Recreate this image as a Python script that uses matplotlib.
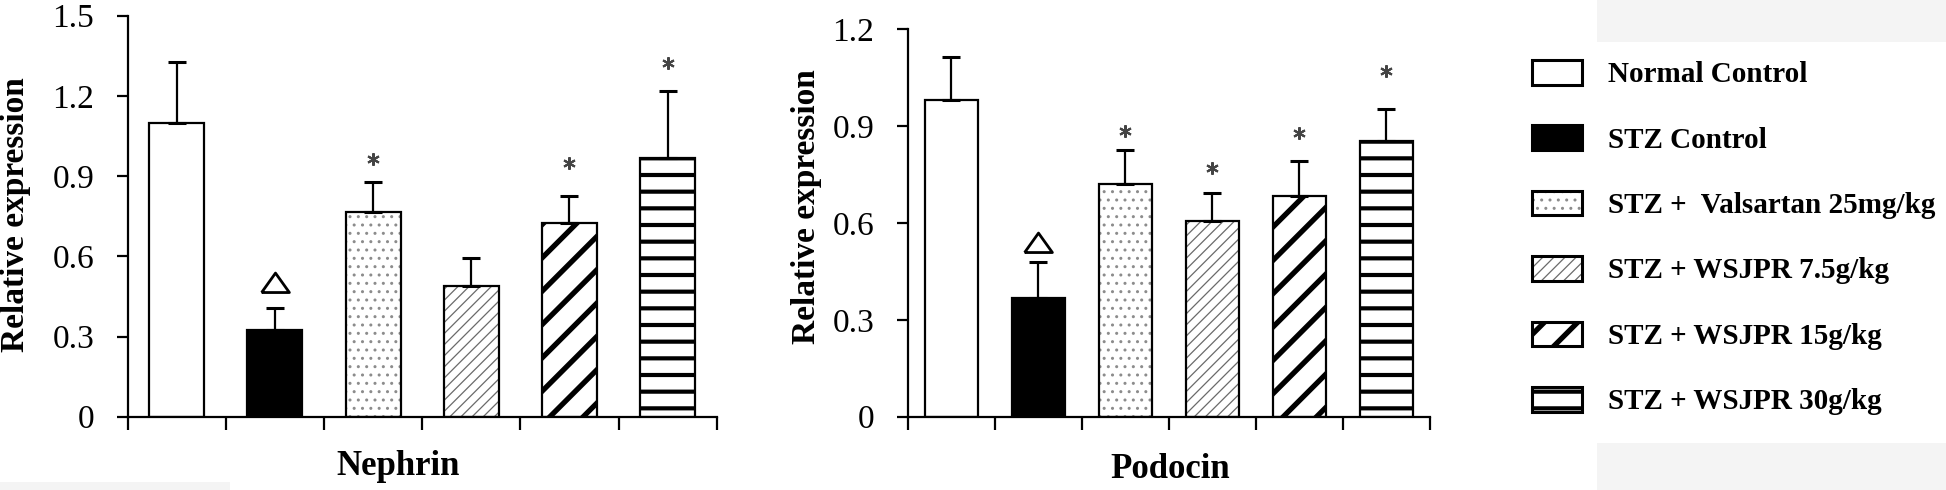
import numpy as np
import matplotlib as mpl
mpl.use("Agg")
import matplotlib.pyplot as plt
import matplotlib.patches as mpatches
from matplotlib.legend_handler import HandlerTuple, HandlerPatch

# ---------------- data ----------------
groups = ["Normal Control", "STZ Control", "STZ +  Valsartan 25mg/kg",
          "STZ + WSJPR 7.5g/kg", "STZ + WSJPR 15g/kg", "STZ + WSJPR 30g/kg"]

nephrin_mean = [1.10, 0.325, 0.765, 0.49, 0.726, 0.969]
nephrin_err = [0.226, 0.081, 0.114, 0.104, 0.100, 0.251]
nephrin_mark = ["", "tri", "star", "", "star", "star"]
nephrin_mark_y = [np.nan, 0.50, 0.963, np.nan, 0.948, 1.322]

podocin_mean = [0.981, 0.369, 0.720, 0.607, 0.684, 0.854]
podocin_err = [0.132, 0.109, 0.106, 0.085, 0.108, 0.100]
podocin_mark = ["", "tri", "star", "star", "star", "star"]
podocin_mark_y = [np.nan, 0.539, 0.885, 0.770, 0.878, 1.071]

nephrin_ticks = [0, 0.3, 0.6, 0.9, 1.2, 1.5]
podocin_ticks = [0, 0.3, 0.6, 0.9, 1.2]
tick_labels_n = ["0", "0.3", "0.6", "0.9", "1.2", "1.5"]
tick_labels_p = ["0", "0.3", "0.6", "0.9", "1.2"]

# ---------------- styles ----------------
styles = [
    dict(face="white", hatch=None, hcolor="black", hlw=1.0),
    dict(face="black", hatch=None, hcolor="black", hlw=1.0),
    dict(face="white", hatch="..", hcolor="#8c8c8c", hlw=1.0),
    dict(face="white", hatch="///", hcolor="#6a6a6a", hlw=0.9),
    dict(face="white", hatch="/", hcolor="black", hlw=3.8),
    dict(face="white", hatch="-", hcolor="black", hlw=3.0),
]

SERIF = "Liberation Serif"
W, H, DPI = 1946, 490, 100
fig = plt.figure(figsize=(W / DPI, H / DPI), dpi=DPI)

# faint scanned background areas
for (x0, y0, x1, y1) in [(1597, 0, 1946, 42), (1597, 443, 1946, 490), (0, 482, 230, 490)]:
    fig.add_artist(mpatches.Rectangle((x0 / W, 1 - y1 / H), (x1 - x0) / W, (y1 - y0) / H,
                                      transform=fig.transFigure, color="#f4f4f4",
                                      zorder=-10, linewidth=0))


def make_patch_kwargs(st):
    return dict(facecolor=st["face"], edgecolor=st["hcolor"], hatch=st["hatch"], linewidth=0)


def set_hlw(p, lw):
    if hasattr(p, "set_hatch_linewidth"):
        try:
            p.set_hatch_linewidth(lw)
        except Exception:
            pass


class HatchPatchHandler(HandlerPatch):
    def create_artists(self, legend, orig_handle, xdescent, ydescent, width, height,
                       fontsize, trans):
        lw = getattr(orig_handle, "_my_hlw", None)
        if lw is None:
            return super().create_artists(legend, orig_handle, xdescent, ydescent,
                                          width, height, fontsize, trans)
        with mpl.rc_context({"hatch.linewidth": lw}):
            arts = super().create_artists(legend, orig_handle, xdescent, ydescent,
                                          width, height, fontsize, trans)
        for a in arts:
            set_hlw(a, lw)
        return arts


def draw_panel(ax, means, errs, marks, mark_y, ymax, ticks, tlabels, width):
    x = np.arange(len(means))
    for i in range(len(means)):
        st = styles[i]
        with mpl.rc_context({"hatch.linewidth": st["hlw"]}):
            b = ax.bar(x[i], means[i], width, zorder=2, **make_patch_kwargs(st))
            for p in b:
                set_hlw(p, st["hlw"])
        ax.bar(x[i], means[i], width, facecolor="none", edgecolor="black",
               linewidth=1.6, zorder=3)
    ax.errorbar(x, means, yerr=[np.zeros(len(errs)), errs], fmt="none",
                ecolor="black", elinewidth=1.6, capsize=6.5, capthick=2.2, zorder=4)
    for i in range(len(means)):
        if marks[i] == "tri":
            ax.plot(x[i], mark_y[i], linestyle="none",
                    marker=[(-1, -0.65), (1, -0.65), (0, 0.75), (-1, -0.65)],
                    ms=20, mfc="white", mec="black", mew=2.0, zorder=5, clip_on=False)
        elif marks[i] == "star":
            ax.plot(x[i], mark_y[i], linestyle="none", marker=(6, 2, 0), ms=9,
                    mec="#444444", mew=1.5, zorder=5, clip_on=False)
    ax.set_xlim(-0.5, len(means) - 0.5)
    ax.set_ylim(0, ymax)
    ax.set_yticks(ticks)
    ax.set_yticklabels(tlabels, fontfamily=SERIF, fontsize=24)
    ax.set_xticks(np.arange(-0.5, len(means)))
    ax.set_xticklabels([])
    for s in ["top", "right"]:
        ax.spines[s].set_visible(False)
    for s in ["left", "bottom"]:
        ax.spines[s].set_linewidth(1.6)
    ax.tick_params(axis="y", direction="out", length=8, width=1.6, pad=16)
    ax.tick_params(axis="x", direction="out", length=9.5, width=1.6)
    ax.set_facecolor("none")


ax1 = fig.add_axes([127.7 / W, 1 - 416.7 / H, 589 / W, 401 / H])
draw_panel(ax1, nephrin_mean, nephrin_err, nephrin_mark, nephrin_mark_y, 1.5,
           nephrin_ticks, tick_labels_n, 0.56)
ax2 = fig.add_axes([907.7 / W, 1 - 416.7 / H, 522.3 / W, (416.7 - 29.3) / H])
draw_panel(ax2, podocin_mean, podocin_err, podocin_mark, podocin_mark_y, 1.2,
           podocin_ticks, tick_labels_p, 0.61)

# axis titles
fig.text(398 / W, 1 - 466 / H, "Nephrin", ha="center", va="center",
         fontfamily=SERIF, fontweight="bold", fontsize=25)
fig.text(1170 / W, 1 - 469 / H, "Podocin", ha="center", va="center",
         fontfamily=SERIF, fontweight="bold", fontsize=25)
fig.text(16 / W, 1 - 215 / H, "Relative expression", rotation=90, ha="center", va="center",
         fontfamily=SERIF, fontweight="bold", fontsize=24)
fig.text(807 / W, 1 - 207 / H, "Relative expression", rotation=90, ha="center", va="center",
         fontfamily=SERIF, fontweight="bold", fontsize=24)

# legend
handles = []
for st in styles:
    with mpl.rc_context({"hatch.linewidth": st["hlw"]}):
        fp = mpatches.Rectangle((0, 0), 1, 1, **make_patch_kwargs(st))
        set_hlw(fp, st["hlw"])
    fp._my_hlw = st["hlw"]
    op = mpatches.Rectangle((0, 0), 1, 1, facecolor="none", edgecolor="black",
                            linewidth=2.2, joinstyle="round")
    handles.append((fp, op))

fig.legend(handles, groups, loc="upper left", bbox_to_anchor=(1531.7 / W, 1 - 60 / H),
           frameon=False, prop=dict(family=SERIF, weight="bold", size=21),
           handlelength=1.71, handleheight=0.92, handletextpad=0.9, labelspacing=1.27,
           borderpad=0, borderaxespad=0,
           handler_map={tuple: HandlerTuple(ndivide=1, pad=0),
                        mpatches.Rectangle: HatchPatchHandler()})

fig.savefig("out.png", dpi=DPI)
